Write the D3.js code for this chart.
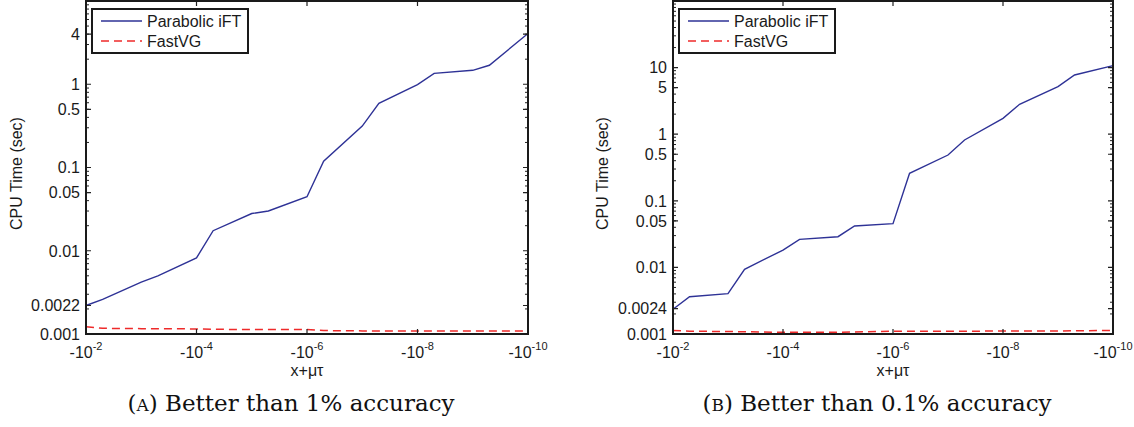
<!DOCTYPE html>
<html>
<head>
<meta charset="utf-8">
<script src="https://cdn.jsdelivr.net/npm/d3@7"></script>
<style>
  body { margin: 0; background: #fff; }
  svg { display: block; }
  .tick-label { font-family: "Liberation Sans", Arial, sans-serif; font-size: 16px; fill: #1a1a1a; }
  .axis-title { font-family: "Liberation Sans", Arial, sans-serif; font-size: 16px; fill: #1a1a1a; }
  .legend-text { font-family: "Liberation Sans", Arial, sans-serif; font-size: 16px; fill: #1a1a1a; }
  .caption { font-family: "DejaVu Serif", "Liberation Serif", serif; font-size: 23px; fill: #111; }
</style>
</head>
<body>
<div id="chart"></div>
<script>
// x values (x + mu*tau), shown as negative numbers on the axis
const xValues = [1e-2, 5e-3, 1e-3, 5e-4, 1e-4, 5e-5, 1e-5, 5e-6, 1e-6,
                 5e-7, 1e-7, 5e-8, 1e-8, 5e-9, 1e-9, 5e-10, 1e-10];

// panel A: better than 1% accuracy
const parabolicA = [0.0022, 0.0026, 0.0042, 0.0050, 0.0082, 0.0174, 0.028, 0.030, 0.0445,
                    0.119, 0.314, 0.59, 0.99, 1.35, 1.47, 1.69, 4.07];
const fastvgA = [0.00122, 0.00117, 0.00116, 0.00116, 0.00115, 0.00114, 0.00113, 0.00113, 0.00113,
                 0.00110, 0.00109, 0.00109, 0.00109, 0.00109, 0.00109, 0.00109, 0.00109];
const yTicksA = [0.001, 0.0022, 0.01, 0.05, 0.1, 0.5, 1, 4];

// panel B: better than 0.1% accuracy
const parabolicB = [0.00235, 0.00363, 0.00403, 0.00936, 0.0182, 0.0264, 0.0289, 0.0419, 0.0453,
                    0.259, 0.487, 0.818, 1.73, 2.81, 5.17, 7.74, 10.7];
const fastvgB = [0.00113, 0.00110, 0.00109, 0.00108, 0.00106, 0.00106, 0.00106, 0.00107, 0.00110,
                 0.00110, 0.00110, 0.00110, 0.00111, 0.00111, 0.00111, 0.00112, 0.00113];
const yTicksB = [0.001, 0.0024, 0.01, 0.05, 0.1, 0.5, 1, 5, 10];

const xTickExps = [-2, -4, -6, -8, -10];
const seriesNames = ["Parabolic iFT", "FastVG"];
const captions = [["A", " Better than 1% accuracy"], ["B", " Better than 0.1% accuracy"]];

const width = 1134, height = 427;
const svg = d3.select("#chart").append("svg")
    .attr("width", width)
    .attr("height", height);

const blue = "#2e3296";
const red = "#ee2a2a";

function drawPanel(cfg){
    const { left, right, top, bottom, yMax, parabolic, fastvg, yTicks, caption, yTitleX } = cfg;
    const g = svg.append("g");

    const x = d3.scaleLog().domain([1e-2, 1e-10]).range([left, right]);
    const y = d3.scaleLog().domain([0.001, yMax]).range([bottom, top]);

    //LINES
    const line = d3.line()
        .x((d, i) => x(xValues[i]))
        .y(d => y(d));

    g.append("path")
        .attr("d", line(fastvg))
        .attr("fill", "none")
        .attr("stroke", red)
        .attr("stroke-width", 1.5)
        .attr("stroke-dasharray", "8,5");

    g.append("path")
        .attr("d", line(parabolic))
        .attr("fill", "none")
        .attr("stroke", blue)
        .attr("stroke-width", 1.4);

    //MINOR Y TICKS
    const minor = [];
    for(let e = -3; e < Math.log10(yMax); e++){
        for(let k = 2; k <= 9; k++){
            const v = k * Math.pow(10, e);
            if(v < yMax) minor.push(v);
        }
    }
    g.selectAll(".minor").data(minor).enter().append("path")
        .attr("d", d => `M${left},${y(d)}h3M${right},${y(d)}h-3`)
        .attr("stroke", "#222").attr("stroke-width", 1);

    //MAJOR Y TICKS
    g.selectAll(".ymajor").data(yTicks).enter().append("path")
        .attr("d", d => `M${left},${y(d)}h5M${right},${y(d)}h-5`)
        .attr("stroke", "#222").attr("stroke-width", 1.2);

    g.selectAll(".ylabel").data(yTicks).enter().append("text")
        .attr("class", "tick-label")
        .attr("x", left - 6)
        .attr("y", d => y(d))
        .attr("dy", "0.36em")
        .attr("text-anchor", "end")
        .text(d => d3.format("~g")(d));

    //X TICKS
    g.selectAll(".xmajor").data(xTickExps).enter().append("path")
        .attr("d", d => `M${x(Math.pow(10, d))},${bottom}v-5M${x(Math.pow(10, d))},${top}v5`)
        .attr("stroke", "#222").attr("stroke-width", 1.2);

    const xl = g.selectAll(".xlabel").data(xTickExps).enter().append("text")
        .attr("class", "tick-label")
        .attr("x", d => x(Math.pow(10, d)))
        .attr("y", bottom + 24)
        .attr("text-anchor", "middle");
    xl.append("tspan").text("-10");
    xl.append("tspan").attr("dy", -8).style("font-size", "11px").text(d => d);

    //BOX
    g.append("rect")
        .attr("x", left).attr("y", top)
        .attr("width", right - left).attr("height", bottom - top)
        .attr("fill", "none").attr("stroke", "#1a1a1a").attr("stroke-width", 2);

    //AXIS TITLES
    g.append("text")
        .attr("class", "axis-title")
        .attr("x", (left + right) / 2)
        .attr("y", bottom + 42)
        .attr("text-anchor", "middle")
        .text("x+\u03bc\u03c4");

    g.append("text")
        .attr("class", "axis-title")
        .attr("transform", `translate(${yTitleX},${(top + bottom) / 2 + 6}) rotate(-90)`)
        .attr("text-anchor", "middle")
        .text("CPU Time (sec)");

    //LEGEND
    const lg = g.append("g").attr("transform", `translate(${left + 6},9)`);
    lg.append("rect")
        .attr("width", 156).attr("height", 44)
        .attr("fill", "#fff").attr("stroke", "#1a1a1a").attr("stroke-width", 2);
    const styles = [{ c: blue, dash: null }, { c: red, dash: "8,5" }];
    seriesNames.forEach((name, i) => {
        const yy = 12 + i * 20;
        lg.append("line")
            .attr("x1", 9).attr("x2", 50).attr("y1", yy).attr("y2", yy)
            .attr("stroke", styles[i].c).attr("stroke-width", 1.5)
            .attr("stroke-dasharray", styles[i].dash);
        lg.append("text")
            .attr("class", "legend-text")
            .attr("x", 55).attr("y", yy).attr("dy", "0.36em")
            .text(name);
    });

    //CAPTION
    const cap = g.append("text")
        .attr("class", "caption")
        .attr("x", (left + right) / 2 - 16)
        .attr("y", 411)
        .attr("text-anchor", "middle");
    cap.append("tspan").text("(");
    cap.append("tspan").style("font-size", "17px").text(caption[0]);
    cap.append("tspan").text(")" + caption[1]);
}

drawPanel({ left: 86, right: 528, top: 1, bottom: 334, yMax: 10,
    parabolic: parabolicA, fastvg: fastvgA, yTicks: yTicksA, caption: captions[0], yTitleX: 22 });
drawPanel({ left: 673, right: 1113, top: 1, bottom: 334, yMax: 100,
    parabolic: parabolicB, fastvg: fastvgB, yTicks: yTicksB, caption: captions[1], yTitleX: 608 });
</script>
</body>
</html>
